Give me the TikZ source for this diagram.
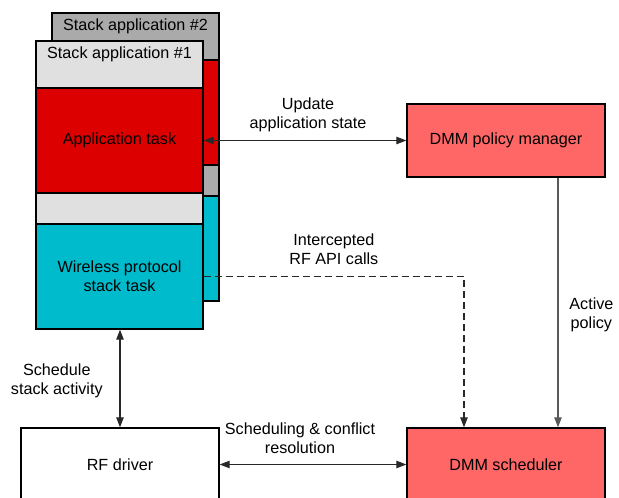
\documentclass[tikz,border=0pt]{standalone}
\usepackage{fontspec}
\setmainfont{Liberation Sans}
\usepackage{xcolor}
\usetikzlibrary{positioning,arrows.meta}

\definecolor{taskred}{RGB}{221,0,0}
\definecolor{taskcyan}{RGB}{0,187,204}
\definecolor{hdrlight}{RGB}{224,224,224}
\definecolor{hdrdark}{RGB}{170,170,170}
\definecolor{dmmred}{RGB}{255,102,102}
\definecolor{wire}{RGB}{40,40,40}

\begin{document}
\begin{tikzpicture}[
    font=\fontsize{9.2}{10.8}\selectfont,
    blk/.style={draw, rectangle, line width=0.8pt, inner sep=0pt, align=center},
    layer/.style={blk, minimum width=3.34cm},
    unit/.style={blk, minimum width=3.96cm, minimum height=1.46cm},
    tip/.tip={Triangle[length=2mm, width=1.5mm]},
    link/.style={line width=0.6pt, draw=wire, tip-tip},
    lbl/.style={align=center}
]
    \useasboundingbox (0,0) rectangle (12.38,9.96);
    \clip (0,0) rectangle (12.38,9.96);

    % Stack application #2 (behind)
    \begin{scope}[shift={(0.32,0.56)}]
        \node[layer, fill=hdrdark, minimum height=0.94cm] (sa2) at (2.39,8.67) {};
        \node[layer, fill=taskred, minimum height=2.10cm] (app2) at (2.39,7.15) {};
        \node[layer, fill=hdrdark, minimum height=0.62cm] (gap2) at (2.39,5.79) {};
        \node[layer, fill=taskcyan, minimum height=2.10cm] (wps2) at (2.39,4.43) {};
        \node[below=0.01cm of sa2.north] (sa2txt) {Stack application \#2};
    \end{scope}

    % Stack application #1
    \node[layer, fill=hdrlight, minimum height=0.94cm] (sa1) at (2.39,8.67) {};
    \node[layer, fill=taskred, minimum height=2.10cm] (app1) at (2.39,7.15) {Application task};
    \node[layer, fill=hdrlight, minimum height=0.62cm] (gap1) at (2.39,5.79) {};
    \node[layer, fill=taskcyan, minimum height=2.10cm] (wps1) at (2.39,4.43) {Wireless protocol\\stack task};
    \node[below=0.01cm of sa1.north] (sa1txt) {Stack application \#1};

    % DMM
    \node[unit, fill=dmmred] (dmmpm) at (10.12,7.15) {DMM policy manager};
    \node[unit, fill=dmmred] (dmmsch) at (10.12,0.67) {DMM scheduler};

    % Radio
    \node[unit, fill=white] (rfd) at (2.40,0.67) {RF driver};

    % Connections
    \draw[link] (app1.east) -- (dmmpm.west)
        node[lbl, midway, above=0.04cm, xshift=0.06cm] (updlbl) {Update\\application state};
    \draw[link, dash pattern=on 1.4mm off 0.8mm, -tip] (wps1.east) -| ([xshift=-0.84cm]dmmsch.north)
        node[lbl, pos=0.25, above=0.1cm] (intlbl) {Intercepted\\RF API calls};
    \draw[line width=0.6pt, draw=black!65, -tip] ([xshift=1.04cm]dmmpm.south) -- ([xshift=1.04cm]dmmsch.north)
        node[lbl, midway, right=0.1cm, yshift=-0.24cm] (actlbl) {Active\\policy};
    \draw[link] (rfd.north |- wps1.south) -- (rfd.north)
        node[lbl, midway, left=0.22cm, yshift=-0.04cm] (schlbl) {Schedule\\stack activity};
    \draw[link] (rfd.east) -- (dmmsch.west)
        node[lbl, midway, above=0.08cm, xshift=-0.26cm] (conlbl) {Scheduling \& conflict\\resolution};
\end{tikzpicture}
\end{document}
